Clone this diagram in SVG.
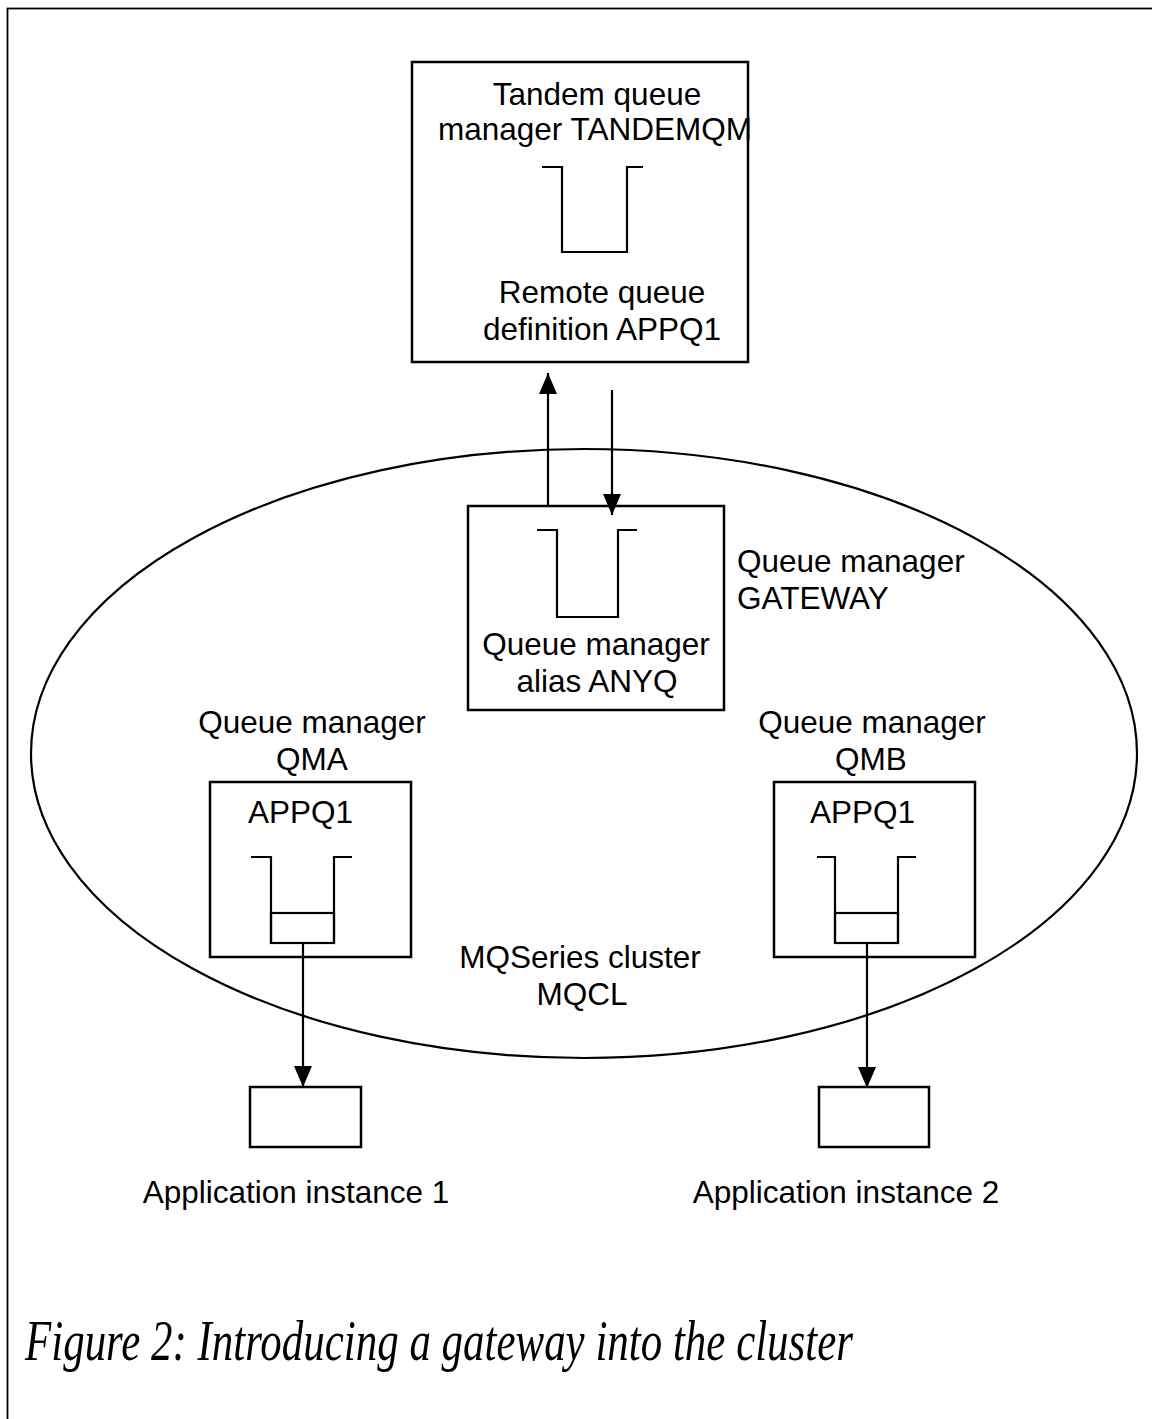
<svg xmlns="http://www.w3.org/2000/svg" width="1152" height="1419" viewBox="0 0 1152 1419">
<defs>
<style>
.t{font-family:"Liberation Sans",Arial,sans-serif;font-size:31.5px;fill:#000}
.c{text-anchor:middle}
.box{fill:#fff;stroke:#000;stroke-width:2.5}
.q{fill:none;stroke:#000;stroke-width:2.2}
.ln{fill:none;stroke:#000;stroke-width:2.2}
.cap{font-family:"Liberation Serif","Times New Roman",serif;font-style:italic;font-size:56px;fill:#000}
</style>
<marker id="ah" markerWidth="21" markerHeight="18" refX="21" refY="9" orient="auto" markerUnits="userSpaceOnUse" viewBox="0 0 21 18">
<path d="M0,0 L21,9 L0,18 Z" fill="#000"/>
</marker>
</defs>
<rect x="0" y="0" width="1152" height="1419" fill="#fff"/>
<rect id="frame" x="7.5" y="8.5" width="1200" height="1500" fill="none" stroke="#000" stroke-width="1.8"/>

<g id="cluster">
<ellipse cx="584" cy="753.5" rx="553" ry="304.5" fill="none" stroke="#000" stroke-width="2.2"/>
<text class="t c" x="580" y="968">MQSeries cluster</text>
<text class="t c" x="582" y="1005">MQCL</text>
</g>

<g id="tandem">
<rect class="box" x="412" y="62" width="336" height="300"/>
<text class="t c" x="597" y="105">Tandem queue</text>
<text class="t c" x="595" y="140">manager TANDEMQM</text>
<path class="q" d="M542,167 H562 V252 H627 V167 H643"/>
<text class="t c" x="602" y="303">Remote queue</text>
<text class="t c" x="602" y="340">definition APPQ1</text>
</g>

<g id="gateway">
<rect class="box" x="468" y="506" width="256" height="204"/>
<path class="q" d="M537,530 H557 V617 H618 V530 H637"/>
<text class="t c" x="596" y="655">Queue manager</text>
<text class="t c" x="597" y="692">alias ANYQ</text>
<text class="t" x="737" y="572">Queue manager</text>
<text class="t" x="737" y="609">GATEWAY</text>
</g>

<g id="qma">
<text class="t c" x="312" y="733">Queue manager</text>
<text class="t c" x="312" y="770">QMA</text>
<rect class="box" x="210" y="782" width="201" height="175"/>
<text class="t" x="248" y="823">APPQ1</text>
<path class="q" d="M251,857 H271 V943 H334 V857 H352"/>
<rect class="q" x="271" y="913" width="63" height="30"/>
</g>

<g id="qmb">
<text class="t c" x="872" y="733">Queue manager</text>
<text class="t c" x="871" y="770">QMB</text>
<rect class="box" x="774" y="782" width="201" height="175"/>
<text class="t" x="810" y="823">APPQ1</text>
<path class="q" d="M817,857 H835 V943 H898 V857 H916"/>
<rect class="q" x="835" y="913" width="63" height="30"/>
</g>

<g id="app1">
<rect class="box" x="250" y="1087" width="111" height="60"/>
<text class="t c" x="296" y="1203">Application instance 1</text>
</g>

<g id="app2">
<rect class="box" x="819" y="1087" width="110" height="60"/>
<text class="t c" x="846" y="1203">Application instance 2</text>
</g>

<g id="connectors">
<line class="ln" x1="548" y1="506" x2="548" y2="373" marker-end="url(#ah)"/>
<line class="ln" x1="612" y1="390" x2="612" y2="515" marker-end="url(#ah)"/>
<line class="ln" x1="303" y1="943" x2="303" y2="1087" marker-end="url(#ah)"/>
<line class="ln" x1="867" y1="943" x2="867" y2="1088" marker-end="url(#ah)"/>
</g>

<text class="cap" x="25" y="1360" textLength="828" lengthAdjust="spacingAndGlyphs">Figure 2: Introducing a gateway into the cluster</text>
</svg>
